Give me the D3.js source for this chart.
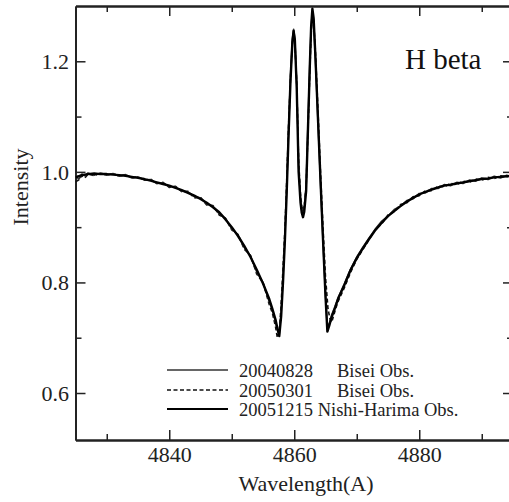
<!DOCTYPE html>
<html>
<head>
<meta charset="utf-8">
<script src="https://cdn.jsdelivr.net/npm/d3@7"></script>
<style>
  body { margin: 0; background: #fff; }
  svg { display: block; font-family: "Liberation Serif", "Times New Roman", serif; }
</style>
</head>
<body>
<svg id="chart" width="509" height="502"></svg>
<script>
// --- data ---
const xMajorTicks = [4840, 4860, 4880];
const xMinorTicks = [4830, 4850, 4870, 4890];
const yMajorTicks = [0.6, 0.8, 1.0, 1.2];
const yMinorTicks = [0.7, 0.9, 1.1];

const legendDates = ["20040828", "20050301", "20051215"];
const legendSites = ["Bisei Obs.", "Bisei Obs.", "Nishi-Harima Obs."];

// [wavelength (A), intensity]
const obs20040828 = [
  [4825,0.997],[4825.5,0.986],[4826,0.996],[4826.5,0.993],[4827,0.998],[4828,0.994],[4829,0.998],[4830,0.994],
  [4831,0.997],[4832,0.992],[4833,0.995],[4834,0.989],[4835,0.991],[4836,0.985],[4837,0.986],[4838,0.979],
  [4839,0.980],[4840,0.973],[4841,0.973],[4842,0.965],[4843,0.964],[4844,0.955],[4845,0.953],[4846,0.942],
  [4847,0.938],[4848,0.924],[4849,0.916],[4850,0.897],[4851,0.886],[4852,0.863],[4853,0.848],[4854,0.819],
  [4855,0.800],[4856,0.765],
  [4856.5,0.750],[4857,0.728],[4857.3,0.714],[4857.6,0.706],[4857.9,0.745],[4858.2,0.810],[4858.5,0.885],
  [4858.8,0.975],[4859.1,1.080],[4859.4,1.175],[4859.7,1.240],[4859.9,1.258],[4860.1,1.240],[4860.4,1.160],
  [4860.7,1.010],[4861.0,0.952],[4861.2,0.932],[4861.4,0.925],[4861.6,0.935],[4861.9,0.975],[4862.2,1.090],
  [4862.5,1.200],[4862.7,1.262],[4862.9,1.290],[4863.1,1.272],[4863.4,1.200],[4863.8,1.090],[4864.2,0.980],
  [4864.6,0.875],[4865.0,0.778],[4865.3,0.716],[4865.6,0.726],[4866.0,0.742],[4866.5,0.756],[4867,0.772],
  [4868,0.797],[4869,0.824],[4870,0.846],[4871,0.864],[4872,0.881],[4873,0.897],[4874,0.911],[4875,0.920],
  [4876,0.932],[4877,0.938],[4878,0.948],[4879,0.951],[4880,0.961],[4881,0.962],[4882,0.970],[4883,0.970],
  [4884,0.977],[4885,0.975],[4886,0.981],[4887,0.979],[4888,0.985],[4889,0.983],[4890,0.989],[4891,0.986],
  [4892,0.992],[4893,0.989],[4894,0.994],[4895,0.991]
];

const obs20050301 = [
  [4825,0.982],[4825.5,0.985],[4826,0.993],[4826.5,0.989],[4827,0.996],[4828,0.993],[4829,0.998],[4830,0.994],
  [4831,0.997],[4832,0.992],[4833,0.995],[4834,0.989],[4835,0.991],[4836,0.985],[4837,0.987],[4838,0.979],
  [4839,0.981],[4840,0.972],[4841,0.974],[4842,0.964],[4843,0.965],[4844,0.953],[4845,0.954],[4846,0.940],
  [4847,0.939],[4848,0.922],[4849,0.916],[4850,0.895],[4851,0.887],[4852,0.860],[4853,0.849],[4854,0.815],
  [4855,0.800],[4856,0.760],[4856.5,0.745],[4857,0.720],[4857.3,0.700],[4857.6,0.710],[4857.9,0.760],
  [4858.2,0.825],[4858.5,0.895],[4858.8,0.985],[4859.1,1.085],[4859.4,1.170],[4859.7,1.232],[4859.9,1.250],
  [4860.1,1.235],[4860.4,1.160],[4860.7,1.020],[4861.0,0.960],[4861.2,0.938],[4861.4,0.930],[4861.6,0.938],
  [4861.9,0.972],[4862.2,1.075],[4862.5,1.185],[4862.7,1.250],[4862.9,1.285],[4863.1,1.275],[4863.4,1.215],
  [4863.8,1.110],[4864.2,1.000],[4864.6,0.900],[4865.0,0.810],[4865.4,0.752],[4865.7,0.735],[4866.0,0.728],
  [4866.3,0.740],[4866.7,0.755],[4867,0.765],[4868,0.790],[4869,0.818],[4870,0.842],[4871,0.860],[4872,0.878],
  [4873,0.896],[4874,0.906],[4875,0.922],[4876,0.928],[4877,0.941],[4878,0.944],[4879,0.955],[4880,0.957],
  [4881,0.966],[4882,0.966],[4883,0.974],[4884,0.973],[4885,0.979],[4886,0.977],[4887,0.983],[4888,0.981],
  [4889,0.987],[4890,0.985],[4891,0.990],[4892,0.988],[4893,0.993],[4894,0.991],[4895,0.995]
];

const obs20051215 = [
  [4825,0.990],[4826,0.994],[4827,0.996],[4828,0.997],[4829,0.996],[4830,0.996],[4831,0.995],[4832,0.994],
  [4833,0.993],[4834,0.991],[4835,0.989],[4836,0.987],[4837,0.984],[4838,0.981],[4839,0.978],[4840,0.975],
  [4841,0.971],[4842,0.967],[4843,0.962],[4844,0.957],[4845,0.951],[4846,0.944],[4847,0.936],[4848,0.927],
  [4849,0.914],[4850,0.900],[4851,0.884],[4852,0.866],[4853,0.846],[4854,0.823],[4855,0.798],[4856,0.770],
  [4856.5,0.752],[4857,0.733],[4857.3,0.717],[4857.6,0.703],[4857.9,0.738],[4858.2,0.800],[4858.5,0.875],
  [4858.8,0.965],[4859.1,1.070],[4859.4,1.165],[4859.7,1.235],[4859.9,1.255],[4860.1,1.238],[4860.4,1.150],
  [4860.7,1.000],[4861.0,0.945],[4861.2,0.926],[4861.4,0.918],[4861.6,0.928],[4861.9,0.965],[4862.2,1.080],
  [4862.5,1.195],[4862.7,1.262],[4862.9,1.295],[4863.1,1.278],[4863.4,1.205],[4863.8,1.095],[4864.2,0.985],
  [4864.6,0.878],[4865.0,0.775],[4865.3,0.711],[4865.6,0.722],[4866.0,0.738],[4866.5,0.753],[4867,0.770],
  [4868,0.795],[4869,0.822],[4870,0.844],[4871,0.862],[4872,0.879],[4873,0.895],[4874,0.908],[4875,0.920],
  [4876,0.929],[4877,0.938],[4878,0.946],[4879,0.953],[4880,0.959],[4881,0.964],[4882,0.968],[4883,0.972],
  [4884,0.975],[4885,0.977],[4886,0.979],[4887,0.981],[4888,0.983],[4889,0.985],[4890,0.987],[4891,0.988],
  [4892,0.990],[4893,0.991],[4894,0.992],[4895,0.993]
];

// --- layout ---
const svg = d3.select("#chart");
const plot = { left: 75.5, top: 6, right: 513, bottom: 440 };

const x = d3.scaleLinear().domain([4825, 4895]).range([plot.left, plot.right]);
const y = d3.scaleLinear().domain([0.515, 1.30]).range([plot.bottom, plot.top]);

const ink = "#222";

svg.append("defs").append("clipPath").attr("id", "clip")
  .append("rect")
  .attr("x", plot.left).attr("y", plot.top)
  .attr("width", plot.right - plot.left).attr("height", plot.bottom - plot.top);

// draws one set of inward ticks (labels optional)
function drawAxis(axisFn, scale, values, size, labels, transform, pad) {
  const g = svg.append("g")
    .attr("transform", transform)
    .call(axisFn(scale)
      .tickValues(values)
      .tickSizeInner(-size)
      .tickSizeOuter(0)
      .tickPadding(pad || 0)
      .tickFormat(labels ? d3.format(labels) : ""));
  g.select(".domain").attr("stroke", ink).attr("stroke-width", 1.8);
  g.selectAll(".tick line").attr("stroke", ink).attr("stroke-width", 1.5);
  g.selectAll(".tick text")
    .attr("fill", ink)
    .style("font-size", "22px")
    .style("font-family", "'Liberation Serif', 'Times New Roman', serif");
  return g;
}

// bottom & top
drawAxis(d3.axisBottom, x, xMajorTicks, 10, "d", `translate(0,${plot.bottom})`, 6);
drawAxis(d3.axisBottom, x, xMinorTicks, 6, null, `translate(0,${plot.bottom})`);
drawAxis(d3.axisTop, x, xMajorTicks, 10, null, `translate(0,${plot.top})`);
drawAxis(d3.axisTop, x, xMinorTicks, 6, null, `translate(0,${plot.top})`);
// left & right
const yLeft = drawAxis(d3.axisLeft, y, yMajorTicks, 10, ".1f", `translate(${plot.left},0)`, 6.5);
yLeft.selectAll(".tick text").attr("dy", "0.34em");
drawAxis(d3.axisLeft, y, yMinorTicks, 6, null, `translate(${plot.left},0)`);
drawAxis(d3.axisRight, y, yMajorTicks, 10, null, `translate(${plot.right},0)`);
drawAxis(d3.axisRight, y, yMinorTicks, 6, null, `translate(${plot.right},0)`);

// axis titles
svg.append("text")
  .attr("x", 306).attr("y", 491)
  .attr("text-anchor", "middle")
  .attr("fill", ink)
  .style("font-size", "22px")
  .text("Wavelength(A)");

svg.append("text")
  .attr("transform", "translate(28,187) rotate(-90)")
  .attr("text-anchor", "middle")
  .attr("fill", ink)
  .style("font-size", "22px")
  .text("Intensity");

svg.append("text")
  .attr("x", 405).attr("y", 69)
  .attr("fill", "#111")
  .style("font-size", "29px")
  .text("H beta");

// --- spectra ---
const line = d3.line().x(d => x(d[0])).y(d => y(d[1]));
const styles = [
  { data: obs20040828, width: 1.6, dash: null, color: "#333" },
  { data: obs20050301, width: 1.6, dash: "4,2.5", color: "#111" },
  { data: obs20051215, width: 2.4, dash: null, color: "#000" }
];
const curves = svg.append("g").attr("clip-path", "url(#clip)");
[styles[1], styles[0], styles[2]].forEach(s => {
  curves.append("path")
    .datum(s.data)
    .attr("d", line)
    .attr("fill", "none")
    .attr("stroke", s.color)
    .attr("stroke-width", s.width)
    .attr("stroke-dasharray", s.dash)
    .attr("stroke-linejoin", "round");
});

// --- legend ---
const legendY = [370, 390, 409];
const legend = svg.append("g");
styles.forEach((s, i) => {
  legend.append("line")
    .attr("x1", 167).attr("x2", 228)
    .attr("y1", legendY[i]).attr("y2", legendY[i])
    .attr("stroke", s.color)
    .attr("stroke-width", i === 2 ? 2 : 1.5)
    .attr("stroke-dasharray", s.dash);
  const t = legend.append("text")
    .attr("x", 239).attr("y", legendY[i] + 6.5)
    .attr("fill", ink)
    .style("font-size", "18.5px");
  if (i < 2) {
    t.text(legendDates[i]);
    legend.append("text")
      .attr("x", 337).attr("y", legendY[i] + 6.5)
      .attr("fill", ink)
      .style("font-size", "18.5px")
      .text(legendSites[i]);
  } else {
    t.text(legendDates[i] + " " + legendSites[i]);
  }
});
</script>
</body>
</html>
